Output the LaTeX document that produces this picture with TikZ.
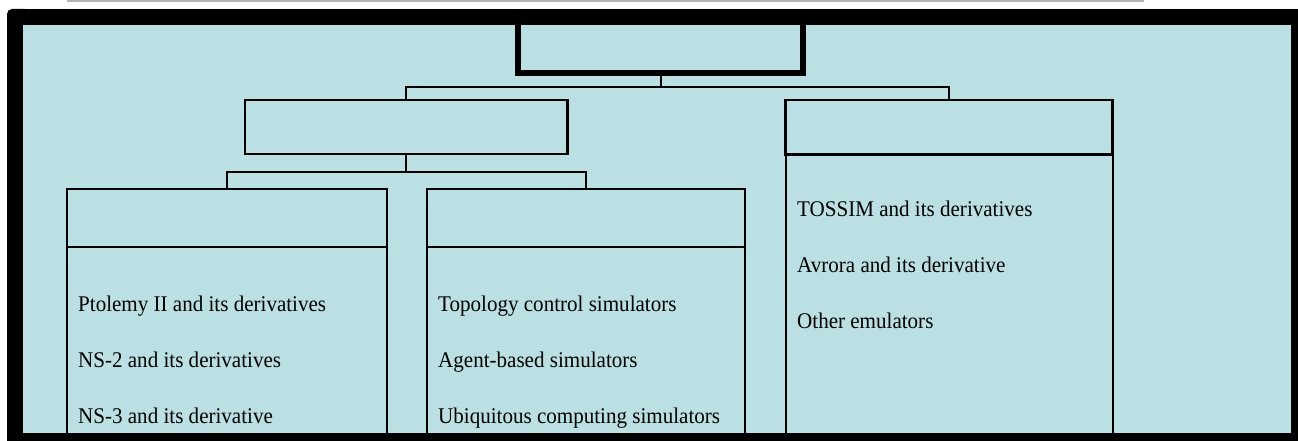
\documentclass[tikz,border=0pt]{standalone}
\usepackage{fontspec}
\setmainfont{Liberation Serif}[FakeStretch=0.94]
\definecolor{bgblue}{RGB}{186,224,227}
\definecolor{bargray}{RGB}{180,180,180}
\begin{document}
\begin{tikzpicture}[x=1pt,y=-1pt,
  boxnode/.style={draw=black, outer sep=0pt, inner sep=0pt, anchor=north west},
  conn/.style={draw=black, line width=2pt},
  item/.style={anchor=base west, inner sep=0pt, font=\fontsize{22.4}{26}\selectfont}]
\useasboundingbox (0,0) rectangle (1298,441);
% top gray bar
\fill[bargray] (67,0) rectangle (1144,2.5);
% black frame
\fill[black] (20,9) rectangle (1298,441);
\fill[black] (7,20) rectangle (21,441);
\fill[black, rounded corners=5pt] (7,9) rectangle (30,30);
\fill[bgblue] (23,25) rectangle (1291,433);
% boxes
\node[boxnode, line width=6pt, minimum width=285pt, minimum height=51pt] (root) at (518,22) {};
\node[boxnode, line width=2.5pt, minimum width=322.5pt, minimum height=54pt] (sim) at (245,100) {};
\node[boxnode, line width=2.5pt, minimum width=327pt, minimum height=54.5pt] (emuh) at (785.5,100) {};
\node[boxnode, line width=2pt, minimum width=327pt, minimum height=282pt] (emub) at (785.5,154.5) {};
\node[boxnode, line width=2pt, minimum width=319.5pt, minimum height=58pt] (gh) at (67,189) {};
\node[boxnode, line width=2pt, minimum width=319.5pt, minimum height=189pt] (gb) at (67,247) {};
\node[boxnode, line width=2pt, minimum width=318pt, minimum height=58pt] (sh) at (427,189) {};
\node[boxnode, line width=2pt, minimum width=318pt, minimum height=189pt] (sb) at (427,247) {};
% connectors
\coordinate (j1) at (660.5,87);
\coordinate (j2) at (406.25,172);
\draw[conn] (root.south) -- (j1);
\draw[conn] (sim.north) |- (j1) -| (emuh.north);
\draw[conn] (sim.south) -- (j2);
\draw[conn] (gh.north) |- (j2) -| (sh.north);
% texts
\node[item] (t1) at (78,311) {Ptolemy II and its derivatives};
\node[item] (t2) at (78,367) {NS-2 and its derivatives};
\node[item] (t3) at (78,423) {NS-3 and its derivative};
\node[item] (t4) at (438,311) {Topology control simulators};
\node[item] (t5) at (438,367) {Agent-based simulators};
\node[item] (t6) at (438,423) {Ubiquitous computing simulators};
\node[item] (t7) at (797,216) {TOSSIM and its derivatives};
\node[item] (t8) at (797,272) {Avrora and its derivative};
\node[item] (t9) at (797,328) {Other emulators};
\end{tikzpicture}
\end{document}
